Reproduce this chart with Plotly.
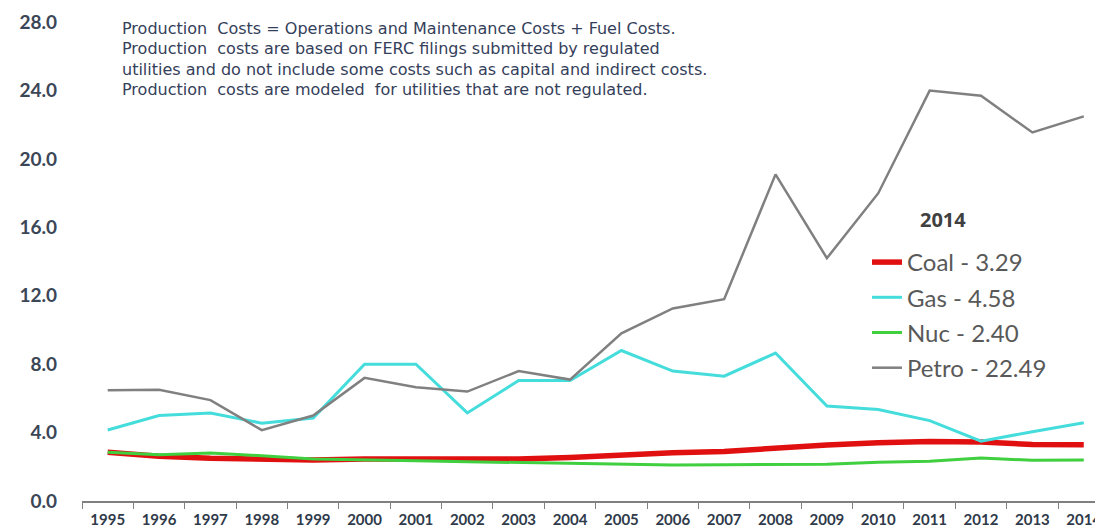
import plotly.graph_objects as go

years = [str(y) for y in range(1995, 2015)]

coal = [2.85, 2.62, 2.50, 2.42, 2.40, 2.45, 2.45, 2.45, 2.45, 2.55,
        2.70, 2.82, 2.90, 3.10, 3.27, 3.40, 3.48, 3.45, 3.30, 3.29]
gas = [4.15, 5.00, 5.15, 4.55, 4.85, 8.00, 8.00, 5.15, 7.05, 7.05,
       8.80, 7.60, 7.30, 8.65, 5.55, 5.35, 4.70, 3.50, 4.05, 4.58]
nuc = [2.85, 2.70, 2.80, 2.65, 2.45, 2.38, 2.35, 2.30, 2.25, 2.20,
       2.12, 2.10, 2.12, 2.15, 2.15, 2.27, 2.33, 2.52, 2.38, 2.40]
petro = [6.48, 6.50, 5.90, 4.14, 5.00, 7.20, 6.65, 6.40, 7.60, 7.10,
         9.80, 11.26, 11.80, 19.10, 14.20, 18.00, 24.00, 23.70, 21.55, 22.49]

series = [
    ("Coal - 3.29", coal, "#e01010", 5.5),
    ("Gas - 4.58", gas, "#45dcdc", 3),
    ("Nuc - 2.40", nuc, "#3fcf3f", 3),
    ("Petro - 22.49", petro, "#808080", 2.5),
]

y_ticks = [0, 4, 8, 12, 16, 20, 24, 28]

note_lines = [
    "Production  Costs = Operations and Maintenance Costs + Fuel Costs.",
    "Production  costs are based on FERC filings submitted by regulated",
    "utilities and do not include some costs such as capital and indirect costs.",
    "Production  costs are modeled  for utilities that are not regulated.",
]

# the page body adds an 8px offset; plot area sits at x 82..1111, y 8..501 on screen
PX_L, PX_W, PX_T, PX_H = 82, 1029, 8, 493


def px(x):
    return (x - PX_L) / PX_W


def py(y):
    return 1 - (y - PX_T) / PX_H


fig = go.Figure()

for i, (name, vals, color, width) in enumerate(series):
    fig.add_trace(go.Scatter(
        x=years,
        y=vals,
        mode='lines',
        name=name,
        legendgroup=str(i),
        line=dict(color=color, width=width),
    ))

# footnote text in the top left
for i, line in enumerate(note_lines):
    fig.add_annotation(
        text=line,
        xref='paper', yref='paper',
        x=px(120), y=py(28 + i * 20.5),
        xanchor='left', yanchor='middle',
        showarrow=False,
        font=dict(family='DejaVu Sans', size=16, color='#34405a'),
    )

# legend heading
fig.add_annotation(
    text='<b>2014</b>',
    xref='paper', yref='paper',
    x=px(943), y=py(219),
    xanchor='center', yanchor='middle',
    showarrow=False,
    font=dict(family='Open Sans', size=20, color='#404040'),
)

fig.update_layout(
    width=1103,
    height=531,
    template='plotly_white',
    plot_bgcolor='white',
    paper_bgcolor='white',
    margin=dict(l=74, r=0, t=0, b=38),
    showlegend=True,
    legend=dict(
        x=px(867), y=py(240),
        xanchor='left', yanchor='top',
        bgcolor='rgba(0,0,0,0)',
        font=dict(family='Lato', size=24, color='#595959'),
        tracegroupgap=1,
        itemwidth=30,
    ),
    xaxis=dict(
        type='category',
        range=[-0.5, 19.53],
        tickson='boundaries',
        ticks='outside',
        ticklen=6,
        tickcolor='#808080',
        showline=True,
        linecolor='#808080',
        linewidth=1.5,
        showgrid=False,
        automargin=False,
        ticklabelstandoff=4,
        tickfont=dict(family='Lato', size=15, color='#2f3a4a', weight='bold'),
    ),
    yaxis=dict(
        range=[0, 28.83],
        tickvals=y_ticks,
        tickformat='.1f',
        showgrid=False,
        zeroline=False,
        showline=False,
        ticks='',
        ticklabelstandoff=24,
        automargin=False,
        tickfont=dict(family='Lato', size=19, color='#3b4656', weight='bold'),
    ),
)

fig.write_html("out.html")
